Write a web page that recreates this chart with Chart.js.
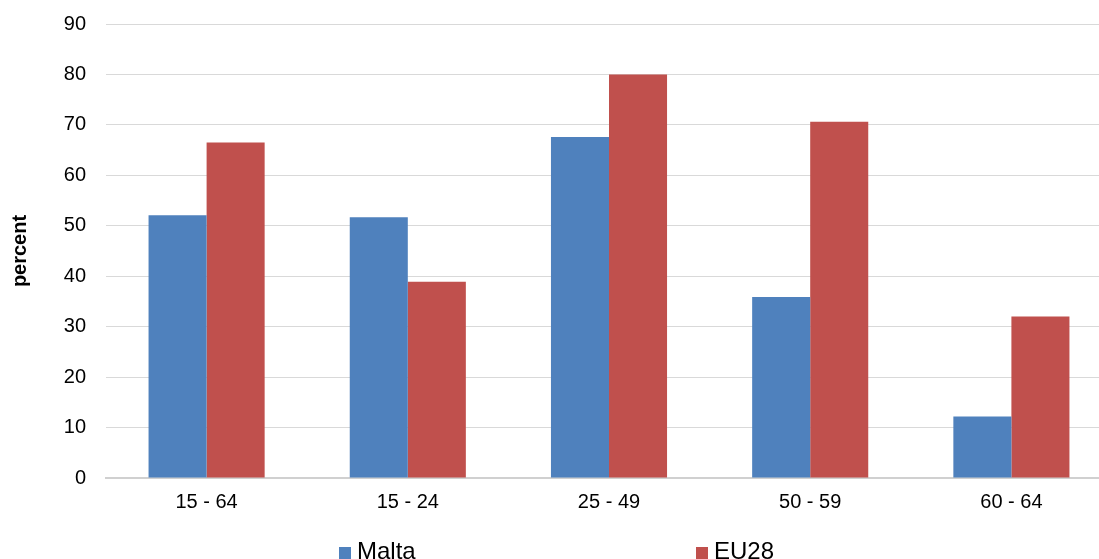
<!DOCTYPE html>
<html lang="en">
<head>
  <meta charset="UTF-8" />
  <title>Malta vs EU28</title>
  <script src="https://cdn.jsdelivr.net/npm/chart.js"></script>
  <style>
    html, body { margin: 0; padding: 0; background: #fff; overflow: hidden; }
    #wrap { position: relative; width: 1099px; height: 559px; overflow: hidden; }
    /* the source image is cropped on the right and top, so the canvas is a bit bigger than the page */
    #chart { position: absolute; left: 0; top: -8px; }
    #legend {
      position: absolute; top: 538px; left: 0; width: 1099px; height: 26px;
      font-family: 'Liberation Sans', Arial, sans-serif; font-size: 24px; line-height: 26px; color: #000;
    }
    .item { position: absolute; top: 0; display: flex; align-items: center; gap: 6px; }
    .box { width: 12px; height: 12px; display: inline-block; margin-top: 4px; }
  </style>
</head>
<body>
  <div id="wrap">
    <canvas id="chart" width="1114" height="567"></canvas>
    <div id="legend"></div>
  </div>

  <script>
    const categories = ['15 - 64', '15 - 24', '25 - 49', '50 - 59', '60 - 64'];
    const malta = [52.1, 51.7, 67.6, 35.9, 12.2];
    const eu28 = [66.5, 38.9, 80.0, 70.6, 32.0];
    const seriesNames = ['Malta', 'EU28'];
    const colors = ['#4f81bd', '#c0504d'];

    // legend drawn as html under the axis
    const legendPos = [339, 696];
    const legend = document.getElementById('legend');
    seriesNames.forEach((name, i) => {
      const el = document.createElement('div');
      el.className = 'item';
      el.style.left = legendPos[i] + 'px';
      el.innerHTML = `<span class="box" style="background:${colors[i]}"></span><span>${name}</span>`;
      legend.appendChild(el);
    });

    const font = "'Liberation Sans', Arial, sans-serif";
    const ctx = document.getElementById('chart').getContext('2d');
    new Chart(ctx, {
      type: 'bar',
      data: {
        labels: categories,
        datasets: [
          { label: seriesNames[0], data: malta, backgroundColor: colors[0] },
          { label: seriesNames[1], data: eu28, backgroundColor: colors[1] }
        ]
      },
      options: {
        responsive: false,
        animation: false,
        layout: { padding: { top: 4, right: 2, bottom: 41, left: 0 } },
        plugins: {
          legend: { display: false },
          tooltip: { enabled: false }
        },
        datasets: {
          bar: { categoryPercentage: 0.577, barPercentage: 1.0 }
        },
        scales: {
          x: {
            grid: { display: false },
            border: { color: '#d0d0d0', width: 2 },
            afterFit: s => { s.height = 40; },
            ticks: {
              color: '#000',
              padding: 4,
              font: { family: font, size: 20 }
            }
          },
          y: {
            min: 0,
            max: 90,
            afterFit: s => { s.width = 106; },
            ticks: {
              stepSize: 10,
              color: '#000',
              padding: 20,
              font: { family: font, size: 20 }
            },
            grid: { color: '#d9d9d9', lineWidth: 1, drawTicks: false },
            border: { display: false },
            title: {
              display: true,
              text: 'percent',
              color: '#000',
              padding: { top: 8, bottom: 0 },
              font: { family: font, size: 20, weight: 'bold' }
            }
          }
        }
      }
    });
  </script>
</body>
</html>
